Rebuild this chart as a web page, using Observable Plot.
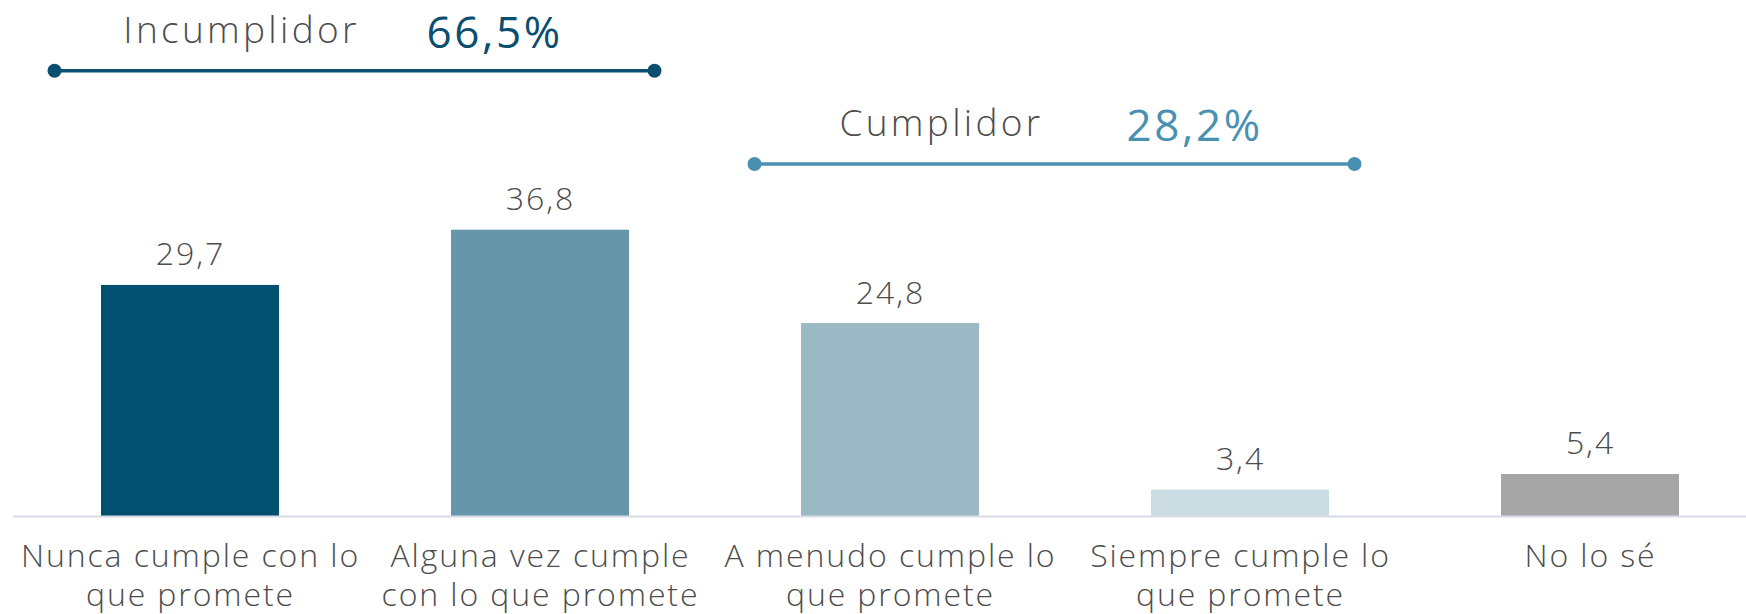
<!DOCTYPE html>
<html>
<head>
<meta charset="utf-8">
<script src="https://cdn.jsdelivr.net/npm/d3@7"></script>
<script src="https://cdn.jsdelivr.net/npm/@observablehq/plot@0.6"></script>
<style>
  body { margin: 0; background: #ffffff; }
  #chart svg { display: block; }
  #chart svg text { letter-spacing: 1.9px; }
</style>
</head>
<body>
<div id="chart"></div>
<script>
// Respuestas: ¿con qué frecuencia cumple lo que promete?
const categories = [
  "Nunca cumple con lo que promete",
  "Alguna vez cumple con lo que promete",
  "A menudo cumple lo que promete",
  "Siempre cumple lo que promete",
  "No lo sé"
];
const tickLabels = [
  "Nunca cumple con lo\nque promete",
  "Alguna vez cumple\ncon lo que promete",
  "A menudo cumple lo\nque promete",
  "Siempre cumple lo\nque promete",
  "No lo sé"
];
const values = [29.7, 36.8, 24.8, 3.4, 5.4];
const barColors = ["#01506f", "#6696aa", "#9bb8c5", "#ccdce3", "#a6a6a6"];

// Agrupaciones resumidas sobre las barras
const groupNames = ["Incumplidor", "Cumplidor"];
const groupTotals = [66.5, 28.2];
const groupMembers = [[0, 1], [2, 3]];
const groupColors = ["#0b4f70", "#4a91b1"];

const esLocale = d3.formatLocale({decimal: ",", thousands: ".", grouping: [3], currency: ["", " €"]});
const fmt = esLocale.format(".1f");

const rows = categories.map((c, i) => ({category: c, value: values[i], color: barColors[i]}));
const labelOf = new Map(categories.map((c, i) => [c, tickLabels[i]]));

// each bracket floats a fixed distance above the tallest bar it covers
const groups = groupNames.map((name, g) => {
  const idx = groupMembers[g];
  return {
    name,
    total: groupTotals[g],
    first: categories[idx[0]],
    last: categories[idx[idx.length - 1]],
    level: d3.max(idx, i => values[i]) + 20.5,
    color: groupColors[g]
  };
});

const font = "'Open Sans', sans-serif";
const textGray = "#4d4d4d";

const chart = Plot.plot({
  width: 1746,
  height: 614,
  marginTop: 0,
  marginLeft: 13,
  marginRight: 0,
  marginBottom: 98,
  style: {fontFamily: font, background: "#ffffff"},
  x: {domain: categories, range: [-73.6, 1853.2], padding: 0.4926},
  y: {domain: [0, 60], range: [516, 49.2], axis: null},
  color: {type: "identity"},
  marks: [
    Plot.barY(rows, {x: "category", y: "value", fill: "color"}),
    Plot.ruleY([0], {stroke: "#d8dce5", strokeWidth: 2}),
    Plot.text(rows, {
      x: "category", y: "value", text: d => fmt(d.value),
      dy: -20, lineAnchor: "bottom", fontSize: 32, fontWeight: 300, fill: textGray
    }),
    Plot.axisX({
      tickSize: 0, tickPadding: 23, fontSize: 32, lineHeight: 1.22, fontWeight: 300,
      tickFormat: c => labelOf.get(c), fill: textGray, label: null
    }),
    // brackets
    Plot.ruleY(groups, {
      x1: "first", x2: "last", y: "level", stroke: "color",
      strokeWidth: 3.5, insetLeft: -47, insetRight: -25
    }),
    Plot.dot(groups, {x: "first", y: "level", dx: -136, r: 7, fill: "color"}),
    Plot.dot(groups, {x: "last", y: "level", dx: 114, r: 7, fill: "color"}),
    Plot.text(groups, {
      x: "first", y: "level", text: "name", dx: 51, dy: -28,
      lineAnchor: "bottom", fontSize: 37, fontWeight: 300, fill: textGray
    }),
    Plot.text(groups, {
      x: "last", y: "level", text: d => fmt(d.total) + "%", dx: -46, dy: -23,
      lineAnchor: "bottom", fontSize: 44, fontWeight: 500, fill: "color"
    })
  ]
});

// wider tracking for the bracket titles and totals
d3.select(chart).selectAll("g[font-size='37'] text").style("letter-spacing", "3.3px");
d3.select(chart).selectAll("g[font-size='44'] text").style("letter-spacing", "2.6px");

document.getElementById("chart").appendChild(chart);
</script>
</body>
</html>
